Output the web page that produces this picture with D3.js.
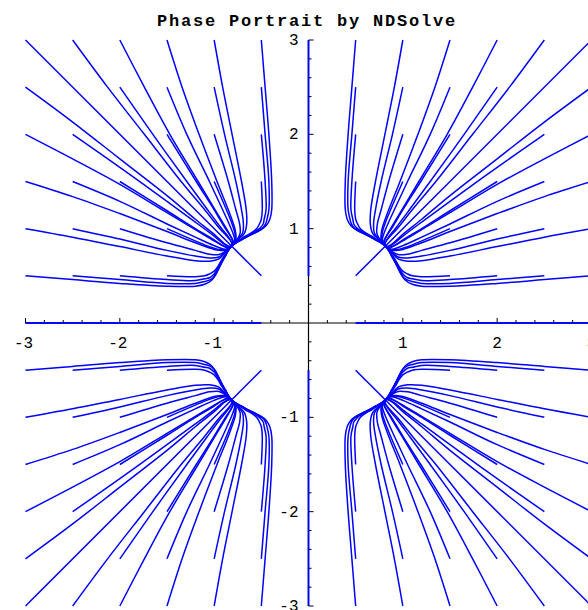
<!DOCTYPE html>
<html>
<head>
<meta charset="utf-8">
<script src="https://cdn.jsdelivr.net/npm/d3@7"></script>
<style>
  body { margin: 0; background: #fff; }
  .traj { fill: none; stroke: #0000ff; stroke-width: 1.5; stroke-linejoin: round; }
  .axis-line { stroke: #000; stroke-width: 1.2; }
  .tick-mark { stroke: #000; stroke-width: 1; }
  .tick-label { font-family: "Liberation Mono", "DejaVu Sans Mono", monospace; font-size: 16px; fill: #000; }
  .title { font-family: "Liberation Mono", "DejaVu Sans Mono", monospace; font-size: 17px; font-weight: bold; letter-spacing: 1.8px; fill: #000; }
</style>
</head>
<body>
<div id="chart"></div>
<script>
var width = 588;
var height = 610;

var title = "Phase Portrait by NDSolve";
var xTickLabels = [-3, -2, -1, 1, 2, 3];
var yTickLabels = [-3, -2, -1, 1, 2, 3];

// where the trajectories pile up (one in each quadrant)
var node = [0.816, 0.816];

// trajectories of the upper-right quadrant that start below the diagonal,
// points; the rest of the picture is the same set mirrored
var lowerPaths = [
    // starting row y = 0.5
    [[3, 0.5], [2.5, 0.46], [2, 0.42], [1.5, 0.39], [1.2, 0.39], [1.1, 0.41], [1.03, 0.45], [0.98, 0.52], [0.94, 0.6], [0.9, 0.68], [0.855, 0.76], node],
    [[2.5, 0.5], [2, 0.46], [1.5, 0.42], [1.2, 0.42], [1.1, 0.44], [1.05, 0.455], [1.0, 0.49], [0.96, 0.56], [0.92, 0.64], [0.88, 0.71], [0.85, 0.77], node],
    [[2, 0.5], [1.5, 0.46], [1.2, 0.45], [1.1, 0.47], [1.05, 0.48], [1.0, 0.52], [0.96, 0.58], [0.92, 0.65], [0.88, 0.72], [0.85, 0.77], node],
    [[1.5, 0.5], [1.2, 0.49], [1.1, 0.5], [1.05, 0.52], [1.0, 0.55], [0.96, 0.6], [0.92, 0.67], [0.88, 0.73], [0.85, 0.78], node],
    [[1, 0.5], [0.97, 0.55], [0.94, 0.61], [0.91, 0.67], [0.88, 0.72], [0.85, 0.77], node],
    // starting row y = 1
    [[3, 1], [2.5, 0.91], [2, 0.81], [1.5, 0.71], [1.2, 0.66], [1.05, 0.655], [0.95, 0.68], [0.88, 0.75], node],
    [[2.5, 1], [2, 0.89], [1.5, 0.77], [1.2, 0.71], [1.05, 0.69], [0.95, 0.70], [0.88, 0.76], node],
    [[2, 1], [1.5, 0.85], [1.2, 0.77], [1.05, 0.73], [0.95, 0.725], [0.88, 0.76], node],
    [[1.5, 1], [1.2, 0.87], [1.05, 0.81], [0.95, 0.78], [0.88, 0.78], node],
    // starting row y = 1.5
    [[3, 1.5], [2.5, 1.34], [2, 1.16], [1.5, 0.97], [1.2, 0.85], [1.0, 0.78], [0.94, 0.77], [0.88, 0.77], [0.85, 0.79], node],
    [[2.5, 1.5], [2, 1.29], [1.5, 1.05], [1.2, 0.91], [1.0, 0.82], [0.92, 0.79], [0.87, 0.78], [0.84, 0.79], node],
    [[2, 1.5], [1.5, 1.19], [1.2, 1.0], [1.0, 0.88], [0.91, 0.82], [0.85, 0.8], node],
    // starting row y = 2
    [[3, 2], [2.5, 1.74], [2, 1.47], [1.5, 1.17], [1.2, 0.99], [1.0, 0.87], [0.91, 0.82], [0.87, 0.8], node],
    [[2.5, 2], [2, 1.65], [1.5, 1.29], [1.2, 1.07], [1.0, 0.92], [0.9, 0.84], [0.84, 0.81], node],
    // starting row y = 2.5
    [[3, 2.5], [2.5, 2.13], [2, 1.74], [1.5, 1.35], [1.2, 1.1], [1.0, 0.94], [0.89, 0.84], [0.84, 0.81], node]
];

// trajectories that run along the diagonal
var diagonalPaths = [
    [[3, 3], node],
    [[0.5, 0.5], node]
];

// trajectories that stay on the axis
var axisPaths = [
    [[0.5, 0], [3, 0]]
];

var quadrantSigns = [[1, 1], [-1, 1], [-1, -1], [1, -1]];

var x = d3.scaleLinear().domain([-3, 3]).range([25.5, 591.5]);
var y = d3.scaleLinear().domain([-3, 3]).range([606, 40]);

var svg = d3.select("#chart")
    .append("svg")
    .attr("width", width)
    .attr("height", height);

// Title
svg.append("text")
    .attr("class", "title")
    .attr("x", 307)
    .attr("y", 26)
    .attr("text-anchor", "middle")
    .text(title);

// Axis lines
svg.append("line")
    .attr("class", "axis-line")
    .attr("x1", x(-3)).attr("x2", x(3))
    .attr("y1", y(0)).attr("y2", y(0));
svg.append("line")
    .attr("class", "axis-line")
    .attr("x1", x(0)).attr("x2", x(0))
    .attr("y1", y(-3)).attr("y2", y(3));

// Build every trajectory from the quadrant data
var allPaths = [];
quadrantSigns.forEach(function (s) {
    lowerPaths.forEach(function (p) {
        allPaths.push(p.map(function (d) { return [s[0] * d[0], s[1] * d[1]]; }));
        allPaths.push(p.map(function (d) { return [s[0] * d[1], s[1] * d[0]]; }));
    });
    diagonalPaths.forEach(function (p) {
        allPaths.push(p.map(function (d) { return [s[0] * d[0], s[1] * d[1]]; }));
    });
    axisPaths.forEach(function (p) {
        allPaths.push(p.map(function (d) { return [s[0] * d[0], s[1] * d[1]]; }));
        allPaths.push(p.map(function (d) { return [s[0] * d[1], s[1] * d[0]]; }));
    });
});

var line = d3.line()
    .x(function (d) { return x(d[0]); })
    .y(function (d) { return y(d[1]); })
    .curve(d3.curveCatmullRom.alpha(0.5));

svg.selectAll(".traj")
    .data(allPaths)
    .enter()
    .append("path")
    .attr("class", "traj")
    .attr("d", line);

// Tick marks (minor every 0.2, major at integers)
var minor = x.ticks(30).filter(function (t) { return Math.abs(t) > 1e-9; });

svg.selectAll(".xtick")
    .data(minor)
    .enter()
    .append("line")
    .attr("class", "tick-mark")
    .attr("x1", function (d) { return x(d); })
    .attr("x2", function (d) { return x(d); })
    .attr("y1", y(0))
    .attr("y2", function (d) { return y(0) - (Math.abs(d - Math.round(d)) < 1e-9 ? 5 : 3); });

svg.selectAll(".ytick")
    .data(minor)
    .enter()
    .append("line")
    .attr("class", "tick-mark")
    .attr("y1", function (d) { return y(d); })
    .attr("y2", function (d) { return y(d); })
    .attr("x1", x(0))
    .attr("x2", function (d) { return x(0) + (Math.abs(d - Math.round(d)) < 1e-9 ? 5 : 3); });

// Tick labels
svg.selectAll(".xlabel")
    .data(xTickLabels)
    .enter()
    .append("text")
    .attr("class", "tick-label")
    .attr("x", function (d) { return x(d) - (d < 0 ? 2 : 0); })
    .attr("y", y(0) + 25)
    .attr("text-anchor", "middle")
    .text(function (d) { return d; });

svg.selectAll(".ylabel")
    .data(yTickLabels)
    .enter()
    .append("text")
    .attr("class", "tick-label")
    .attr("x", x(0) - 10)
    .attr("y", function (d) { return y(d) + 5; })
    .attr("text-anchor", "end")
    .text(function (d) { return d; });
</script>
</body>
</html>
